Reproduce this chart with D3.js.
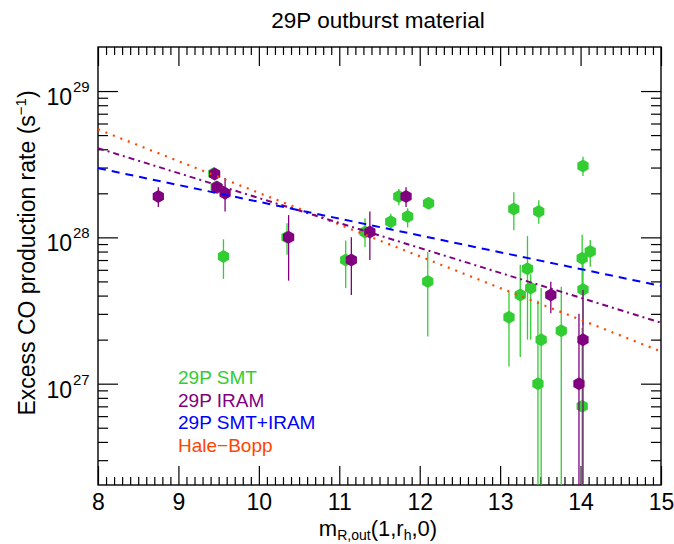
<!DOCTYPE html>
<html>
<head>
<meta charset="utf-8">
<script src="https://cdn.jsdelivr.net/npm/d3@7"></script>
<style>
  body { margin: 0; background: #fff; }
  text { font-family: "Liberation Sans", Arial, sans-serif; }
</style>
</head>
<body>
<script>
const width = 674
const height = 544
const margin = { top: 47, right: 13, bottom: 59, left: 98 }

// 29P SMT points: magnitude, Q(CO), error bar low / high
const smtMag = [9.44, 9.47, 9.56, 10.35, 11.08, 11.32, 11.64, 11.74, 11.85, 12.11, 12.10, 13.11, 13.17,
  13.25, 13.34, 13.38, 13.48, 13.51, 13.47, 13.76, 14.03, 14.02, 14.03, 14.12, 14.02]
const smtQ = [2.73e28, 2.21e28, 7.4e27, 1.0e28, 7.0e27, 1.09e28, 1.28e28, 1.9e28, 1.39e28, 1.71e28, 5.0e27, 2.84e27, 1.56e28,
  4.04e27, 6.1e27, 4.5e27, 1.5e28, 2.0e27, 1.0e27, 2.3e27, 3.08e28, 7.2e27, 4.4e27, 8.0e27, 7.0e26]
const smtLo = [2.55e28, 2.05e28, 5.2e27, 7.6e27, 4.5e27, 8.6e27, 1.12e28, 1.66e28, 1.17e28, 1.6e28, 2.1e27, 1.31e27, 1.12e28,
  1.52e27, 2.0e27, 2.0e27, 1.24e28, 1e25, 1e25, 1e25, 2.63e28, 4.7e27, 2.5e27, 6.3e27, 1e25]
const smtHi = [2.9e28, 2.35e28, 9.7e27, 1.25e28, 9.5e27, 1.35e28, 1.45e28, 2.14e28, 1.58e28, 1.82e28, 7.95e27, 4.26e27, 2.03e28,
  6.5e27, 1.02e28, 5.6e27, 1.79e28, 4.5e27, 3.7e27, 4.6e27, 3.56e28, 1.04e28, 6.8e27, 9.6e27, 2.4e27]

// 29P IRAM points
const iramMag = [8.75, 9.45, 9.48, 9.58, 10.37, 11.15, 11.38, 11.83, 13.63, 13.98, 14.03]
const iramQ = [1.9e28, 2.71e28, 2.2e28, 2.0e28, 1.0e28, 7.0e27, 1.09e28, 1.9e28, 4.04e27, 1.0e27, 2.0e27]
const iramLo = [1.61e28, 2.6e28, 2.1e28, 1.5e28, 5.06e27, 4.04e27, 7.0e27, 1.61e28, 3.03e27, 1e25, 1e25]
const iramHi = [2.2e28, 2.82e28, 2.3e28, 2.55e28, 1.42e28, 1.0e28, 1.5e28, 2.2e28, 4.98e27, 3.0e27, 4.37e27]

// fitted lines, end values at m = 8 and m = 15
const fitMag = [8, 15]
const fitSmtIram = [2.97e28, 4.66e27]
const fitIram = [4.07e28, 2.61e27]
const fitHaleBopp = [5.47e28, 1.66e27]

const legendLabels = ['29P SMT', '29P IRAM', '29P SMT+IRAM', 'Hale\u2212Bopp']
const xMajor = [8, 9, 10, 11, 12, 13, 14, 15]
const yMajor = [1e27, 1e28, 1e29]

const green = '#32cd32'
const purple = '#800080'
const blue = '#0000ff'
const orange = '#ff4500'

const x = d3.scaleLinear().domain([8, 15]).range([margin.left, width - margin.right])
const y = d3.scaleLog().domain([2.03e26, 2.0e29]).range([height - margin.bottom, margin.top])

const svg = d3.select('body').append('svg').attr('width', width).attr('height', height)

svg.append('clipPath').attr('id', 'plot')
  .append('rect')
  .attr('x', margin.left).attr('y', margin.top)
  .attr('width', width - margin.left - margin.right)
  .attr('height', height - margin.top - margin.bottom)

const xMinor = d3.range(80, 151).map(d => d / 10).filter(d => !xMajor.includes(d))
const yMinor = []
for (let n = 26; n <= 28; n++) {
  for (let k = 2; k <= 9; k++) {
    const v = k * Math.pow(10, n)
    if (v >= 2.03e26 && v <= 2.0e29) yMinor.push(v)
  }
}

const bottom = height - margin.bottom
const right = width - margin.right

function tickAxis(axis, values, size, transform) {
  const g = svg.append('g')
    .attr('transform', transform)
    .call(axis.tickValues(values).tickSize(size).tickFormat(''))
  g.select('.domain').remove()
  g.selectAll('line').attr('stroke', '#000').attr('stroke-width', 1.2)
}

tickAxis(d3.axisBottom(x), xMinor, -8, `translate(0,${bottom})`)
tickAxis(d3.axisBottom(x), xMajor, -19, `translate(0,${bottom})`)
tickAxis(d3.axisTop(x), xMinor, -8, `translate(0,${margin.top})`)
tickAxis(d3.axisTop(x), xMajor, -19, `translate(0,${margin.top})`)
tickAxis(d3.axisLeft(y), yMinor, -10, `translate(${margin.left},0)`)
tickAxis(d3.axisLeft(y), yMajor, -20, `translate(${margin.left},0)`)
tickAxis(d3.axisRight(y), yMinor, -10, `translate(${right},0)`)
tickAxis(d3.axisRight(y), yMajor, -20, `translate(${right},0)`)

// x tick labels
const xLab = svg.append('g')
  .attr('transform', `translate(0,${bottom})`)
  .call(d3.axisBottom(x).tickValues(xMajor).tickSize(0).tickPadding(9).tickFormat(d3.format('d')))
xLab.select('.domain').remove()
xLab.selectAll('text').attr('font-size', 23).attr('fill', '#000')
  .attr('font-family', '"Liberation Sans", Arial, sans-serif')

// y tick labels 10^n
const yLab = svg.append('g')
yLab.selectAll('text.base')
  .data(yMajor)
  .join('text')
  .attr('class', 'base')
  .attr('x', 72).attr('y', d => y(d) + 14)
  .attr('text-anchor', 'end')
  .attr('font-size', 23)
  .text('10')
yLab.selectAll('text.exp')
  .data(yMajor)
  .join('text')
  .attr('class', 'exp')
  .attr('x', 73).attr('y', d => y(d) + 1)
  .attr('font-size', 15)
  .text(d => Math.round(Math.log10(d)))

// frame
svg.append('rect')
  .attr('x', margin.left).attr('y', margin.top)
  .attr('width', right - margin.left).attr('height', bottom - margin.top)
  .attr('fill', 'none').attr('stroke', '#000').attr('stroke-width', 1.4)

const plot = svg.append('g').attr('clip-path', 'url(#plot)')

const hexagon = d3.range(6).map(i => {
  const a = Math.PI / 3 * i - Math.PI / 2
  return [Math.cos(a) * 6.5, Math.sin(a) * 6.5]
})
const hexPath = 'M' + hexagon.map(p => p.join(',')).join('L') + 'Z'

function drawSeries(mag, q, lo, hi, col) {
  plot.append('g')
    .selectAll('line')
    .data(mag)
    .join('line')
    .attr('x1', d => x(d)).attr('x2', d => x(d))
    .attr('y1', (d, i) => y(lo[i])).attr('y2', (d, i) => y(hi[i]))
    .attr('stroke', col).attr('stroke-width', 1.3)
  plot.append('g')
    .selectAll('path')
    .data(mag)
    .join('path')
    .attr('d', hexPath)
    .attr('transform', (d, i) => `translate(${x(d)},${y(q[i])})`)
    .attr('fill', col)
}

drawSeries(smtMag, smtQ, smtLo, smtHi, green)
drawSeries(iramMag, iramQ, iramLo, iramHi, purple)

const line = d3.line().x(d => x(d[0])).y(d => y(d[1]))

function drawFit(vals, col, dash, w) {
  plot.append('path')
    .attr('d', line(fitMag.map((m, i) => [m, vals[i]])))
    .attr('fill', 'none')
    .attr('stroke', col)
    .attr('stroke-width', w)
    .attr('stroke-dasharray', dash)
}

drawFit(fitHaleBopp, orange, '2,6', 2.2)
drawFit(fitIram, purple, '6,4,2,4', 2)
drawFit(fitSmtIram, blue, '8,6', 2)

// legend
svg.append('g')
  .selectAll('text')
  .data(legendLabels)
  .join('text')
  .attr('x', 178)
  .attr('y', (d, i) => 384 + i * 22.5)
  .attr('font-size', 19)
  .attr('fill', (d, i) => [green, purple, blue, orange][i])
  .text(d => d)

// title
svg.append('text')
  .attr('x', 378).attr('y', 28)
  .attr('text-anchor', 'middle')
  .attr('font-size', 22.5)
  .text('29P outburst material')

// x axis label
const xt = svg.append('text')
  .attr('x', 378).attr('y', 536)
  .attr('text-anchor', 'middle')
  .attr('font-size', 22)
xt.append('tspan').text('m')
xt.append('tspan').attr('font-size', 14).attr('dy', 4).text('R,out')
xt.append('tspan').attr('dy', -4).text('(1,r')
xt.append('tspan').attr('font-size', 14).attr('dy', 4).text('h')
xt.append('tspan').attr('dy', -4).text(',0)')

// y axis label
const yt = svg.append('text')
  .attr('transform', 'translate(35,253) rotate(-90)')
  .attr('text-anchor', 'middle')
  .attr('font-size', 23)
yt.append('tspan').text('Excess CO production rate (s')
yt.append('tspan').attr('font-size', 15).attr('dy', -9).text('\u22121')
yt.append('tspan').attr('dy', 9).text(')')
</script>
</body>
</html>
